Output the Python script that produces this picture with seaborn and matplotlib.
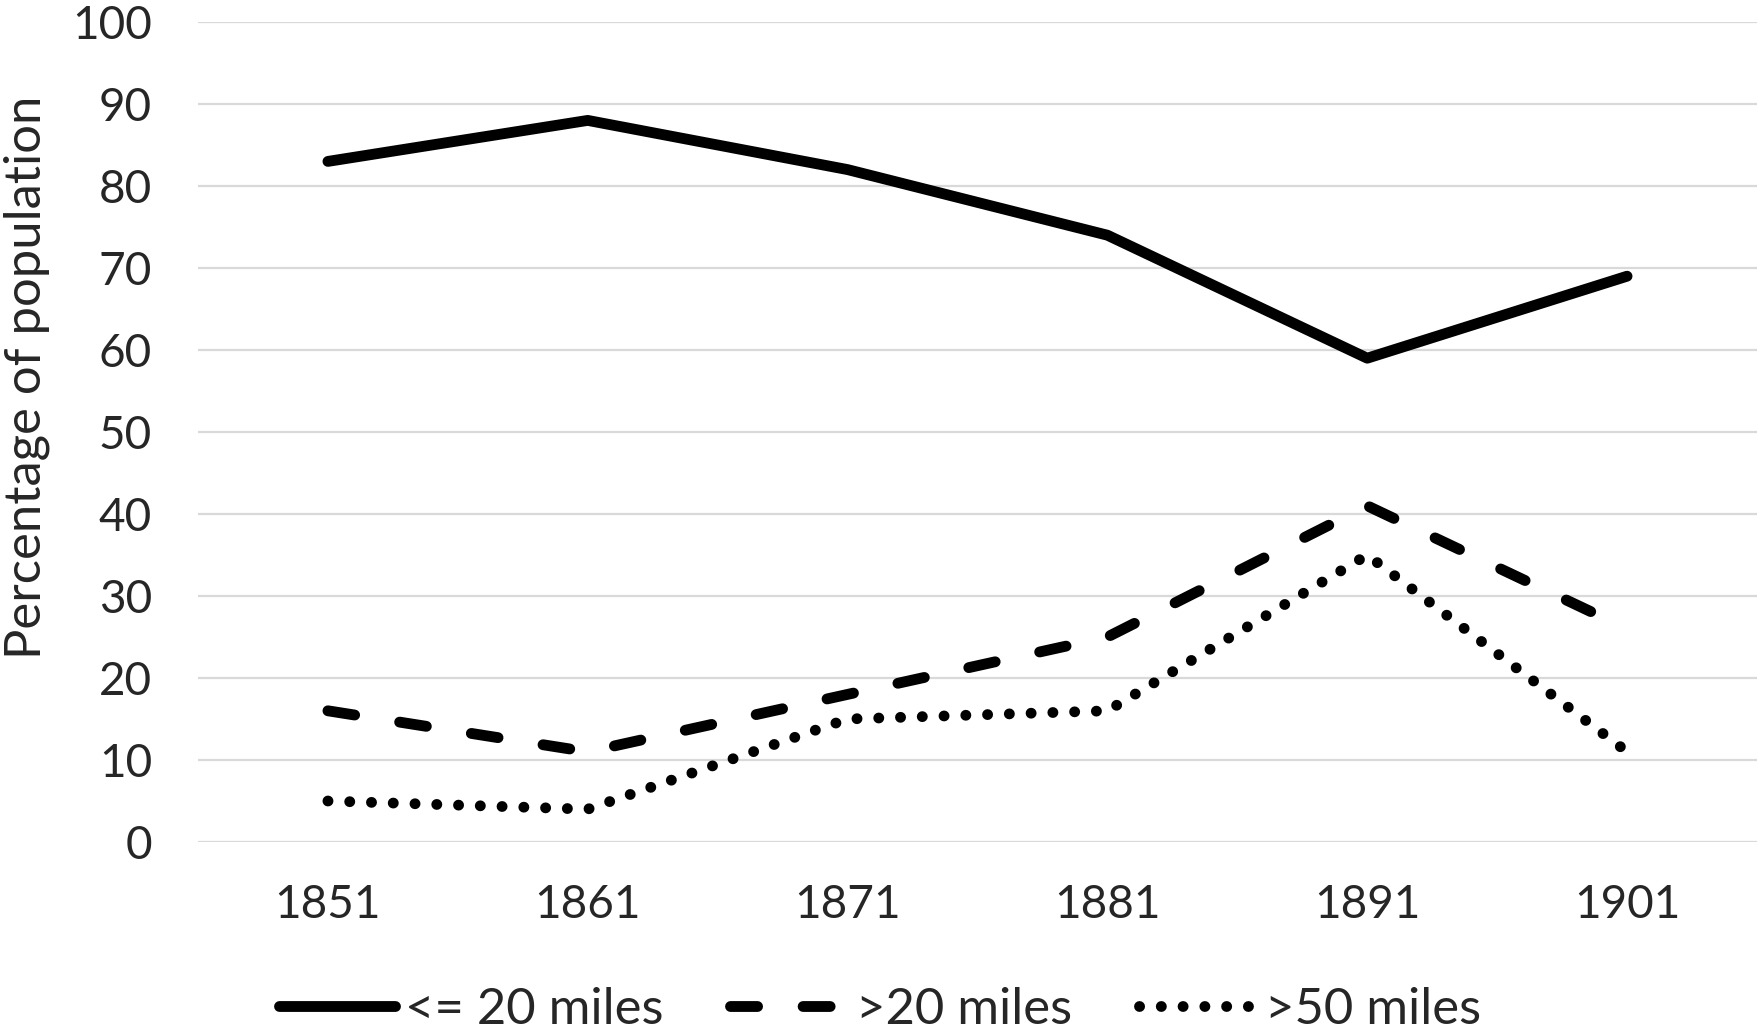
import matplotlib
matplotlib.use('Agg')
import matplotlib.pyplot as plt
import seaborn as sns
import pandas as pd

# Valeurs
years = ['1851', '1861', '1871', '1881', '1891', '1901']
within_20 = [83, 88, 82, 74, 59, 69]
over_20 = [16, 11, 18, 25, 41, 26]
over_50 = [5, 4, 15, 16, 35, 11]
series_names = ['<= 20 miles', '>20 miles', '>50 miles']
y_ticks = list(range(0, 101, 10))

sns.set_style('white')
plt.rcParams['font.family'] = ['Lato', 'DejaVu Sans']
plt.rcParams['font.size'] = 33

df = pd.DataFrame({
    'Year': years * 3,
    'Percentage': within_20 + over_20 + over_50,
    'Series': [name for name in series_names for _ in years],
})

W, H = 1761, 1034
fig = plt.figure(figsize=(W / 100, H / 100), dpi=100)
ax = fig.add_axes([198 / W, 1 - 842 / H, (1757 - 198) / W, (842 - 22) / H])

line_styles = {
    '<= 20 miles': '',
    '>20 miles': (2.5, 4.2),
    '>50 miles': (0.01, 2.0),
}
sns.lineplot(data=df, x='Year', y='Percentage', hue='Series', style='Series',
             palette={n: 'black' for n in series_names}, dashes=line_styles,
             linewidth=7.8, legend=False, sort=False, ax=ax,
             solid_capstyle='round', dash_capstyle='round')

ax.set_xlim(-0.5, len(years) - 0.5)
ax.set_ylim(0, 100)
ax.set_yticks(y_ticks)
ax.yaxis.grid(True, color='#d9d9d9', linewidth=1.6)
ax.xaxis.grid(False)
ax.set_axisbelow(True)
for side in ['top', 'right', 'left', 'bottom']:
    ax.spines[side].set_visible(False)
ax.tick_params(axis='y', length=0, pad=33, labelsize=33)
ax.tick_params(axis='x', length=0, pad=30, labelsize=33)
ax.set_xlabel('')
ax.set_ylabel('')

fig.text(27 / W, 1 - 377 / H, 'Percentage of population', rotation=90,
         ha='center', va='center', fontsize=36.5)

fig.legend(ax.lines[:3], series_names, loc='center',
           bbox_to_anchor=(880 / W, 1 - 1010 / H), ncol=3, frameon=False,
           handlelength=2.3, handletextpad=0.2, columnspacing=1.3,
           fontsize=36.5)

fig.savefig('out.png', dpi=100)
